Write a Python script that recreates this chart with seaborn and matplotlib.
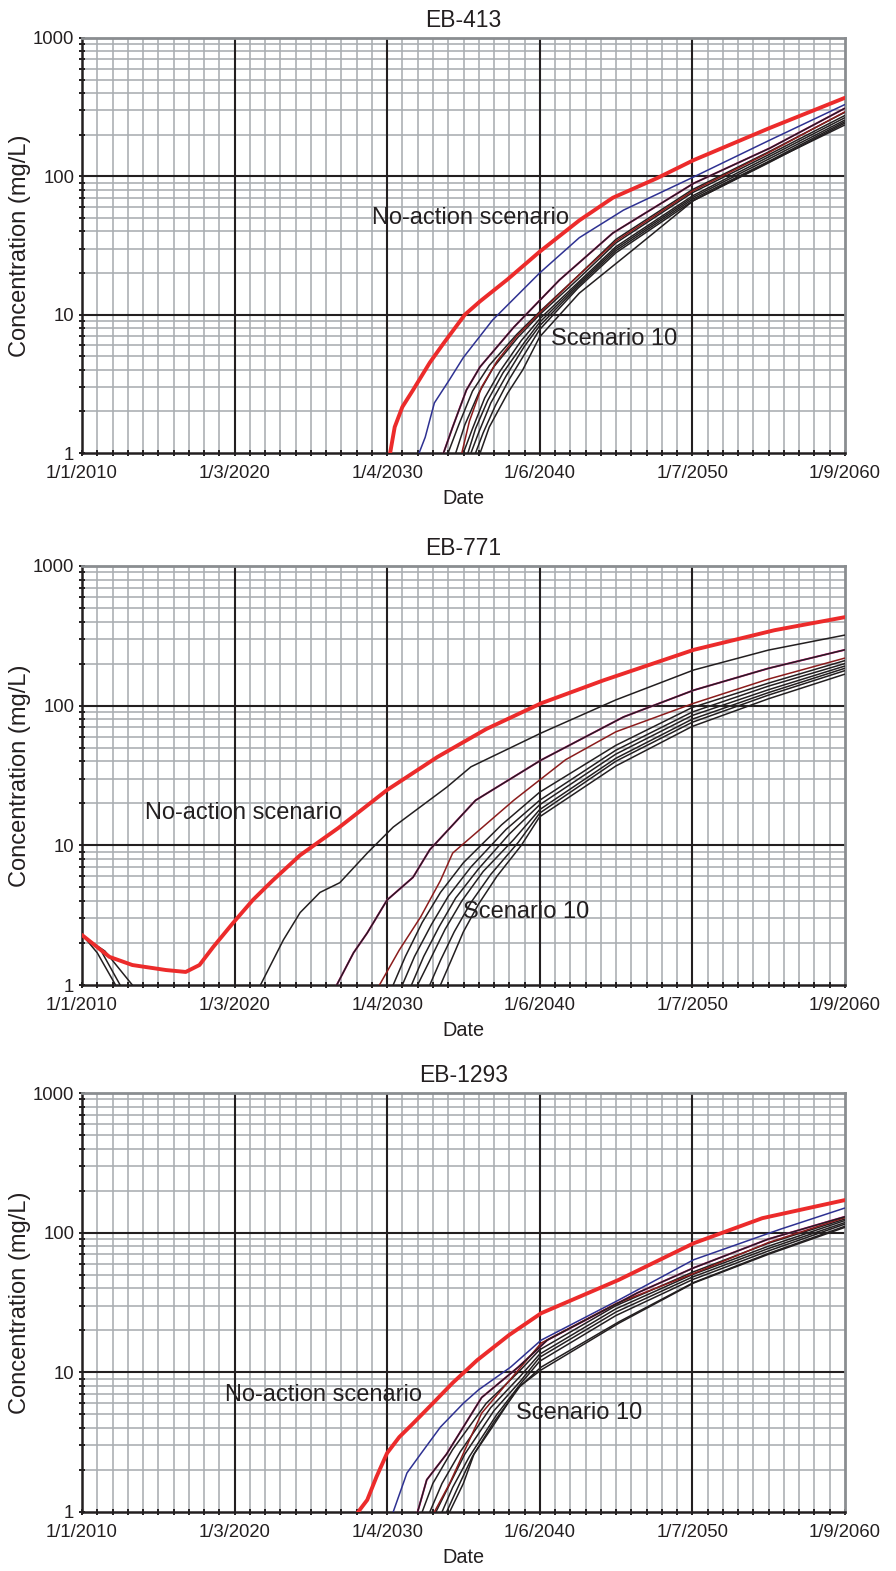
import matplotlib
matplotlib.use('Agg')
import matplotlib.pyplot as plt
import seaborn as sns
from matplotlib.ticker import FixedLocator, FixedFormatter, LogLocator, NullFormatter

# x values are decimal years, y values concentration in mg/L

# ---- EB-413 ----
eb413_red_x = [2030.2, 2030.5, 2031.0, 2031.7, 2032.8, 2033.7, 2035.1, 2036.1, 2037.9, 2040.0, 2042.6, 2044.8, 2047.7, 2050.1, 2055.1, 2060.0]
eb413_red_y = [1, 1.54, 2.15, 2.85, 4.5, 6.2, 10, 12.5, 18, 28.5, 48, 70, 97, 131, 224, 369]
eb413_blue_x = [2032.1, 2032.5, 2033.1, 2034.1, 2035.0, 2036.9, 2040.0, 2042.6, 2045.5, 2050.1, 2055.1, 2060.0]
eb413_blue_y = [1, 1.3, 2.3, 3.4, 4.9, 9.1, 20, 36, 57, 99, 183, 330]
eb413_top_x = [2033.7, 2034.3, 2035.2, 2036.1, 2038.3, 2041.3, 2044.8, 2050.1, 2055.1, 2060.0]
eb413_top_y = [1, 1.54, 2.85, 4.2, 8.1, 17.8, 38.9, 89, 160, 310]
eb413_brown_x = [2034.9, 2035.4, 2036.2, 2037.2, 2038.5, 2040.0, 2042.5, 2045.0, 2050.0, 2055.0, 2060.0]
eb413_brown_y = [1, 1.7, 3.0, 4.6, 7.0, 10.3, 19, 34, 78, 148, 292]
eb413_black = [
    ([2034.0, 2034.7, 2035.6, 2036.7, 2038.5, 2040.0, 2042.5, 2045.0, 2050.0, 2055.0, 2060.0],
     [1, 1.6, 2.8, 4.3, 7.2, 10.5, 19, 35, 80, 150, 290]),
    ([2034.5, 2035.1, 2036.0, 2037.0, 2038.6, 2040.0, 2042.5, 2045.0, 2050.0, 2055.0, 2060.0],
     [1, 1.6, 2.7, 4.2, 6.9, 10, 18, 33, 76, 143, 275]),
    ([2035.0, 2035.6, 2036.4, 2037.4, 2038.8, 2040.0, 2042.5, 2045.0, 2050.0, 2055.0, 2060.0],
     [1, 1.5, 2.5, 3.9, 6.5, 9.3, 17, 31, 72, 138, 265]),
    ([2035.3, 2035.8, 2036.6, 2037.6, 2039.0, 2040.0, 2042.5, 2045.0, 2050.0, 2055.0, 2060.0],
     [1, 1.5, 2.4, 3.8, 6.3, 8.8, 16.5, 30, 70, 133, 255]),
    ([2035.5, 2036.0, 2036.8, 2037.8, 2039.0, 2040.0, 2042.5, 2045.0, 2050.0, 2055.0, 2060.0],
     [1, 1.4, 2.3, 3.6, 5.9, 8.3, 16, 29, 68, 128, 248]),
    ([2035.8, 2036.3, 2037.1, 2038.0, 2039.2, 2040.0, 2042.5, 2045.0, 2050.0, 2055.0, 2060.0],
     [1, 1.4, 2.2, 3.4, 5.6, 7.8, 15.5, 28, 66, 125, 242]),
    ([2036.1, 2036.7, 2037.9, 2038.9, 2040.0, 2042.6, 2046.1, 2050.1, 2055.1, 2060.0],
     [1, 1.54, 2.7, 4.0, 6.9, 14.3, 29.3, 67, 128, 235]),
]

# ---- EB-771 ----
eb771_red_x = [2010.0, 2011.8, 2013.3, 2015.5, 2016.8, 2017.7, 2018.6, 2019.9, 2021.2, 2022.5, 2024.3,
               2026.8, 2030.0, 2033.3, 2036.5, 2040.1, 2044.2, 2050.1, 2055.4, 2060.0]
eb771_red_y = [2.28, 1.59, 1.39, 1.28, 1.24, 1.39, 1.87, 2.78, 4.06, 5.6, 8.5,
               13.3, 24.9, 42.9, 68, 104, 152, 251, 347, 430]
eb771_second_x = [2021.7, 2023.2, 2024.3, 2025.6, 2026.9, 2028.7, 2030.4, 2033.9, 2035.5, 2040.1, 2045.0, 2050.1, 2055.0, 2060.0]
eb771_second_y = [1, 2.1, 3.3, 4.6, 5.4, 8.8, 13.5, 26, 36.5, 63.7, 110, 180, 250, 320]
eb771_top_x = [2026.7, 2027.8, 2028.7, 2030.0, 2031.7, 2032.8, 2035.8, 2040.1, 2045.5, 2050.1, 2055.0, 2060.0]
eb771_top_y = [1, 1.7, 2.36, 4.06, 5.9, 9.3, 21, 40.8, 83, 129, 185, 251]
eb771_brown_x = [2029.5, 2030.8, 2032.2, 2033.5, 2034.3, 2038.3, 2041.7, 2045.0, 2050.1, 2055.0, 2060.0]
eb771_brown_y = [1, 1.78, 3.07, 5.6, 8.8, 21, 41, 65, 104, 155, 219]
eb771_black = [
    ([2030.4, 2031.2, 2032.3, 2033.5, 2035.0, 2037.5, 2040.0, 2045.0, 2050.0, 2055.0, 2060.0],
     [1, 1.6, 2.8, 4.6, 7.5, 14, 24, 52, 97, 145, 210]),
    ([2031.0, 2031.8, 2032.9, 2034.0, 2035.5, 2037.8, 2040.0, 2045.0, 2050.0, 2055.0, 2060.0],
     [1, 1.6, 2.7, 4.3, 7, 13, 21, 48, 90, 138, 200]),
    ([2031.6, 2032.4, 2033.4, 2034.5, 2036.0, 2038.0, 2040.0, 2045.0, 2050.0, 2055.0, 2060.0],
     [1, 1.6, 2.6, 4.2, 6.8, 12, 19.5, 45, 85, 130, 192]),
    ([2032.0, 2032.8, 2033.8, 2034.9, 2036.3, 2038.3, 2040.0, 2045.0, 2050.0, 2055.0, 2060.0],
     [1, 1.5, 2.5, 4.0, 6.5, 11, 18, 42, 80, 124, 185]),
    ([2032.8, 2033.5, 2034.4, 2035.5, 2036.8, 2038.6, 2040.0, 2045.0, 2050.0, 2055.0, 2060.0],
     [1, 1.5, 2.4, 3.9, 6.2, 10.5, 17, 40, 76, 119, 178]),
    ([2033.5, 2034.2, 2035.0, 2036.0, 2037.2, 2038.8, 2040.0, 2045.0, 2050.0, 2055.0, 2060.0],
     [1, 1.5, 2.4, 3.8, 6.0, 10, 16, 37, 71, 112, 168]),
    # early curves dropping below 1
    ([2010.0, 2011.0, 2012.2], [2.3, 1.7, 1]),
    ([2010.0, 2011.2, 2012.5], [2.28, 1.8, 1]),
    ([2010.0, 2011.5, 2013.3], [2.25, 1.75, 1]),
]

# ---- EB-1293 ----
eb1293_red_x = [2028.1, 2028.7, 2029.3, 2030.0, 2030.8, 2031.7, 2033.0, 2034.3, 2035.9, 2038.0, 2040.1, 2045.2, 2050.1, 2054.6, 2060.0]
eb1293_red_y = [1, 1.22, 1.78, 2.64, 3.44, 4.3, 6.0, 8.4, 12.2, 18.5, 26.5, 46, 84, 127, 171]
eb1293_blue_x = [2030.4, 2031.3, 2032.2, 2033.5, 2035.0, 2036.0, 2038.1, 2040.1, 2045.2, 2050.1, 2055.8, 2060.0]
eb1293_blue_y = [1, 1.9, 2.6, 4.06, 6.0, 7.5, 10.9, 17, 33, 64, 106, 150]
eb1293_top_x = [2032.0, 2032.6, 2033.9, 2036.2, 2038.6, 2040.5, 2046.4, 2050.1, 2055.0, 2060.0]
eb1293_top_y = [1, 1.7, 2.6, 6.6, 10.9, 17, 37, 56, 90, 130]
eb1293_brown_x = [2033.1, 2034.1, 2036.2, 2040.1, 2045.0, 2050.1, 2055.0, 2060.0]
eb1293_brown_y = [1, 1.6, 5.1, 16.2, 31, 51, 85, 128]
eb1293_black = [
    ([2032.3, 2033.0, 2034.3, 2036.5, 2038.6, 2040.0, 2045.0, 2050.0, 2055.0, 2060.0],
     [1, 1.6, 2.8, 6.0, 10, 14.5, 30, 52, 84, 125]),
    ([2032.8, 2033.6, 2034.8, 2036.8, 2038.7, 2040.0, 2045.0, 2050.0, 2055.0, 2060.0],
     [1, 1.6, 2.7, 5.6, 9.3, 13.5, 28.5, 50, 80, 122]),
    ([2033.2, 2034.0, 2035.1, 2037.0, 2038.8, 2040.0, 2045.0, 2050.0, 2055.0, 2060.0],
     [1, 1.5, 2.6, 5.3, 8.8, 12.8, 27, 48, 77, 118]),
    ([2033.6, 2034.3, 2035.4, 2037.2, 2038.8, 2040.0, 2045.0, 2050.0, 2055.0, 2060.0],
     [1, 1.5, 2.5, 5.0, 8.4, 12, 25.5, 46, 74, 115]),
    ([2033.9, 2034.7, 2035.6, 2037.0, 2038.7, 2040.1, 2045.2, 2050.1, 2055.0, 2060.1],
     [1, 1.55, 2.5, 4.4, 7.9, 10.9, 23, 44, 71, 112]),
    ([2034.1, 2035.0, 2035.7, 2036.9, 2038.6, 2040.1, 2045.2, 2050.1, 2055.0, 2060.1],
     [1, 1.6, 2.6, 4.06, 7.8, 10.4, 22.5, 43.6, 70, 110]),
]

titles = ['EB-413', 'EB-771', 'EB-1293']
date_labels = ['1/1/2010', '1/3/2020', '1/4/2030', '1/6/2040', '1/7/2050', '1/9/2060']
y_labels = ['1', '10', '100', '1000']
# label positions (year, mg/L) for the two annotations on each panel
noaction_pos = [(2029.0, 50), (2014.1, 17), (2019.4, 6.9)]
scen10_pos = [(2040.75, 6.7), (2035.0, 3.33), (2038.45, 5.1)]

START = 2010.0
MAJOR = 3654 / 365.25

RED = '#ec2b2b'
BLUE = '#2e3192'
BROWN = '#8b1c1c'
MAGENTA = '#e6198c'
BLACK = '#231f20'
GRID_MINOR = '#a9adb1'

sns.set_style('white')
plt.rcParams['font.family'] = ['Liberation Sans', 'DejaVu Sans']

fig = plt.figure(figsize=(8.96, 15.71), dpi=100)
W, H = 896, 1571
boxes = [(38, 453), (566, 985), (1093, 1512)]

panels = [
    (eb413_red_x, eb413_red_y, eb413_blue_x, eb413_blue_y, eb413_top_x, eb413_top_y,
     eb413_brown_x, eb413_brown_y, eb413_black),
    (eb771_red_x, eb771_red_y, None, None, eb771_top_x, eb771_top_y,
     eb771_brown_x, eb771_brown_y, eb771_black + [(eb771_second_x, eb771_second_y)]),
    (eb1293_red_x, eb1293_red_y, eb1293_blue_x, eb1293_blue_y, eb1293_top_x, eb1293_top_y,
     eb1293_brown_x, eb1293_brown_y, eb1293_black),
]

major_x = [START + k * MAJOR for k in range(6)]
minor_x = [START + k * MAJOR / 10 for k in range(51) if k % 10]

for i, (top, bottom) in enumerate(boxes):
    ax = fig.add_axes([82 / W, 1 - bottom / H, 763 / W, (bottom - top) / H])
    ax.set_yscale('log')
    rx, ry, bx, by, tx, ty, brx, bry, blacks = panels[i]

    lw = 1.1
    sns.lineplot(x=tx, y=ty, ax=ax, color=MAGENTA, lw=1.4, zorder=3)
    for xs, ys in blacks:
        sns.lineplot(x=xs, y=ys, ax=ax, color=BLACK, lw=lw, zorder=4)
    sns.lineplot(x=brx, y=bry, ax=ax, color=BROWN, lw=lw, zorder=4)
    sns.lineplot(x=tx, y=ty, ax=ax, color=BLACK, lw=lw, zorder=4)
    if bx is not None:
        sns.lineplot(x=bx, y=by, ax=ax, color=BLUE, lw=lw, zorder=5)
    sns.lineplot(x=rx, y=ry, ax=ax, color=RED, lw=2.8, zorder=6)

    ax.set_xlim(START, START + 5 * MAJOR)
    ax.set_ylim(1, 1000)

    ax.xaxis.set_major_locator(FixedLocator(major_x))
    ax.xaxis.set_major_formatter(FixedFormatter(date_labels))
    ax.xaxis.set_minor_locator(FixedLocator(minor_x))
    ax.yaxis.set_major_locator(FixedLocator([1, 10, 100, 1000]))
    ax.yaxis.set_major_formatter(FixedFormatter(y_labels))
    ax.yaxis.set_minor_locator(LogLocator(base=10, subs=range(2, 10)))
    ax.yaxis.set_minor_formatter(NullFormatter())

    ax.grid(which='minor', color=GRID_MINOR, lw=1.15, zorder=0)
    ax.grid(which='major', visible=False)
    for xv in major_x[1:-1]:
        ax.axvline(xv, color=BLACK, lw=1.5, zorder=1)
    for yv in [10, 100]:
        ax.axhline(yv, color=BLACK, lw=1.5, zorder=1)
    ax.set_axisbelow(True)

    ax.tick_params(which='both', direction='inout', length=5, width=1.4, color=BLACK,
                   left=True, bottom=True, labelsize=13.3, labelcolor=BLACK)
    ax.tick_params(axis='x', pad=6)
    ax.tick_params(axis='y', pad=3)

    for s in ['left', 'bottom']:
        ax.spines[s].set_color(BLACK)
        ax.spines[s].set_linewidth(1.8)
    for s in ['top', 'right']:
        ax.spines[s].set_color('#8a8d90')
        ax.spines[s].set_linewidth(2)

    ax.set_title(titles[i], fontsize=16.5, color=BLACK, pad=8)
    ax.set_xlabel('Date', fontsize=14.3, color=BLACK)
    ax.xaxis.set_label_coords(0.5, -36 / (bottom - top))
    ax.set_ylabel('Concentration (mg/L)', fontsize=17, color=BLACK)
    ax.yaxis.label.set_va('center')
    ax.yaxis.set_label_coords(-62 / 763, 0.5)

    nx, ny = noaction_pos[i]
    ax.text(nx, ny, 'No-action scenario', fontsize=17, color=BLACK, ha='left', va='center', zorder=7)
    sx, sy = scen10_pos[i]
    ax.text(sx, sy, 'Scenario 10', fontsize=17, color=BLACK, ha='left', va='center', zorder=7)

fig.savefig('out.png', dpi=100)
